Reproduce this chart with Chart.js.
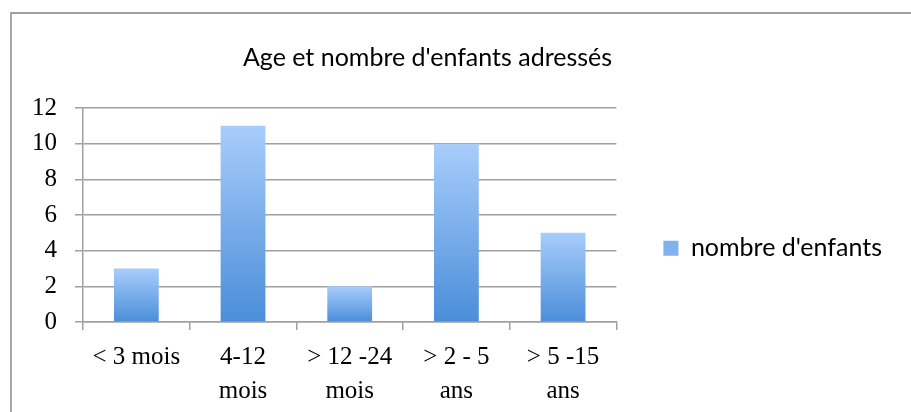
<!DOCTYPE html>
<html>
<head>
<meta charset="utf-8">
<script src="https://cdn.jsdelivr.net/npm/chart.js@4/dist/chart.umd.min.js"></script>
<style>
  html, body { margin: 0; padding: 0; background: #fff; }
  #wrap { position: relative; width: 911px; height: 412px; }
  #frame { position: absolute; left: 10px; top: 12px; right: -5px; bottom: -5px;
           border-top: 2px solid #a0a0a0; border-left: 2px solid #a8a8a8; pointer-events: none; }
</style>
</head>
<body>
<div id="wrap">
  <canvas id="ageChart" width="911" height="412"></canvas>
  <div id="frame"></div>
</div>
<script>
const categories = [["< 3 mois"], ["4-12", "mois"], ["> 12 -24", "mois"], ["> 2 - 5", "ans"], ["> 5 -15", "ans"]];
const enfants = [3, 11, 2, 10, 5];
const seriesName = "nombre d'enfants";
const chartTitle = "Age et nombre d'enfants adressés";

const sansFont = "Lato, 'Open Sans', sans-serif";
const serifFont = "'Liberation Serif', serif";

function barGradient(ctx) {
    const chart = ctx.chart;
    if (!chart.chartArea || ctx.type !== "data") return "#7aaeea";
    const y = chart.scales.y;
    const top = y.getPixelForValue(ctx.raw);
    const bottom = y.getPixelForValue(0);
    const g = chart.ctx.createLinearGradient(0, top, 0, bottom);
    g.addColorStop(0, "#a8cdfb");
    g.addColorStop(1, "#4a8ed9");
    return g;
}

// title in Excel is centred over the whole chart object, not the canvas
const titleShift = {
    id: "titleShift",
    afterLayout(chart) {
        if (chart.titleBlock) {
            chart.titleBlock.left = 10;
            chart.titleBlock.right = 845;
        }
    }
};

const ctx = document.getElementById("ageChart").getContext("2d");
new Chart(ctx, {
    type: "bar",
    data: {
        labels: categories,
        datasets: [{
            label: seriesName,
            data: enfants,
            backgroundColor: barGradient,
            barPercentage: 0.42,
            categoryPercentage: 1
        }]
    },
    options: {
        responsive: false,
        animation: false,
        layout: { padding: { left: 0, right: 19, top: 0, bottom: 0 } },
        plugins: {
            title: {
                display: true,
                text: chartTitle,
                color: "#000",
                font: { family: sansFont, size: 25, weight: "normal" },
                padding: { top: 43, bottom: 35 }
            },
            legend: {
                position: "right",
                maxWidth: 320,
                // empty legend title only used to push the entry down a bit
                title: { display: true, text: " ", color: "#000", font: { size: 12 }, padding: { top: 0, bottom: 70 } },
                labels: {
                    color: "#000",
                    font: { family: sansFont, size: 25 },
                    boxWidth: 15,
                    boxHeight: 15,
                    padding: 47,
                    generateLabels(chart) {
                        return [{
                            text: seriesName,
                            fillStyle: "#7fb2ee",
                            strokeStyle: "#7fb2ee",
                            fontColor: "#000",
                            lineWidth: 0,
                            datasetIndex: 0
                        }];
                    }
                }
            },
            tooltip: { enabled: false }
        },
        scales: {
            x: {
                grid: { drawOnChartArea: false, color: "#a0a0a0", tickLength: 8, lineWidth: 1.5 },
                border: { color: "#a0a0a0", width: 1.5 },
                ticks: {
                    color: "#000",
                    font: { family: serifFont, size: 25, lineHeight: 1.36 },
                    padding: 10,
                    maxRotation: 0,
                    autoSkip: false
                },
                afterFit(scale) { scale.height = 90; }
            },
            y: {
                min: 0,
                max: 12,
                grid: { color: "#a0a0a0", tickLength: 8, lineWidth: 1.5 },
                border: { color: "#a0a0a0", width: 1.5 },
                ticks: {
                    stepSize: 2,
                    color: "#000",
                    font: { family: serifFont, size: 25 },
                    padding: 18
                },
                afterFit(scale) { scale.width = 83; }
            }
        }
    },
    plugins: [titleShift]
});
</script>
</body>
</html>
